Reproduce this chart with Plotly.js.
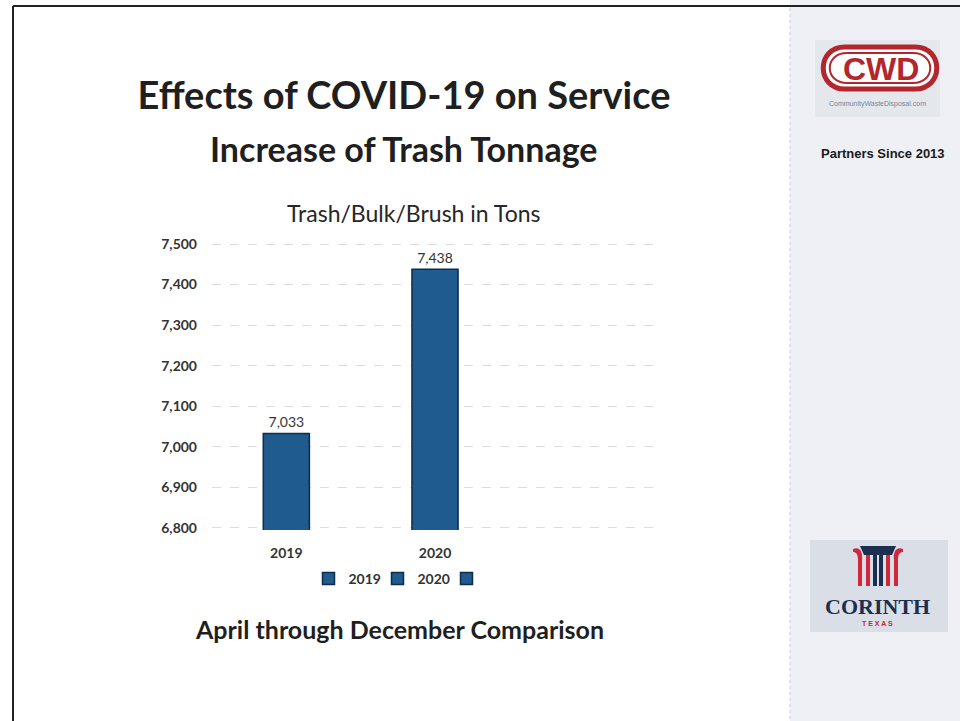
<!DOCTYPE html>
<html><head><meta charset="utf-8">
<script src="https://cdn.plot.ly/plotly-3.0.1.min.js"></script>
<style>html,body{margin:0;padding:0;background:#fff;}#chart{width:960px;height:721px;}</style>
</head><body><div id="chart"></div>
<script>
const categories = ["2019", "2020", " "];
const legendNames = ["2019", "2020", ""];
const tons = [7033, 7438, null];
const yTicks = [6800, 6900, 7000, 7100, 7200, 7300, 7400, 7500];
const yTickLabels = ["6,800", "6,900", "7,000", "7,100", "7,200", "7,300", "7,400", "7,500"];

const barColor = "#1f5b8f";
const barLine = "#0f2c48";
const F = "Lato, 'Open Sans', sans-serif";

const traces = categories.map((c, i) => ({
  type: "bar",
  x: [c],
  y: [tons[i]],
  name: legendNames[i],
  width: 0.31,
  marker: {color: barColor, line: {color: barLine, width: 1.5}},
  text: tons[i] == null ? [""] : [tons[i].toLocaleString("en-US")],
  textposition: "outside",
  cliponaxis: false,
  textfont: {family: F, size: 14, color: "#333"},
  hoverinfo: "skip"
}));

const shapes = [
  // sidebar
  {type: "rect", xref: "x2", yref: "y2", x0: 790, x1: 960, y0: 0, y1: 721, fillcolor: "#eef0f5", line: {width: 0}, layer: "below"},
  {type: "line", xref: "x2", yref: "y2", x0: 790, x1: 790, y0: 8, y1: 721, line: {color: "#c9ccd3", width: 1, dash: "dot"}},
  // slide border
  {type: "line", xref: "x2", yref: "y2", x0: 13, x1: 960, y0: 6, y1: 6, line: {color: "#222", width: 2}},
  {type: "line", xref: "x2", yref: "y2", x0: 13, x1: 13, y0: 6, y1: 721, line: {color: "#222", width: 2}},
  // CWD logo
  {type: "rect", xref: "x2", yref: "y2", x0: 815, x1: 940, y0: 40, y1: 117, fillcolor: "#e4e7ec", line: {width: 0}},
  {type: "path", xref: "x2", yref: "y2", path: "M 845,47 L 915,47 C 944,47 944,89 915,89 L 845,89 C 816,89 816,47 845,47 Z", fillcolor: "#ffffff", line: {color: "#b3262d", width: 5}},
  {type: "path", xref: "x2", yref: "y2", path: "M 847,53 L 913,53 C 936,53 936,83 913,83 L 847,83 C 824,83 824,53 847,53 Z", fillcolor: "#ffffff", line: {color: "#b3262d", width: 2}},
  // Corinth logo
  {type: "rect", xref: "x2", yref: "y2", x0: 810, x1: 948, y0: 540, y1: 632, fillcolor: "#d9dee7", line: {width: 0}},
  {type: "path", xref: "x2", yref: "y2", path: "M 860,546 L 896,546 L 892,555 L 864,555 Z", fillcolor: "#1c2f4f", line: {width: 0}},
  {type: "path", xref: "x2", yref: "y2", path: "M 853,549 C 860,546 863,552 862,560 L 862,586 L 858,586 L 858,560 C 858,554 856,552 853,552 Z", fillcolor: "#d0283a", line: {width: 0}},
  {type: "path", xref: "x2", yref: "y2", path: "M 903,549 C 896,546 893,552 894,560 L 894,586 L 898,586 L 898,560 C 898,554 900,552 903,552 Z", fillcolor: "#d0283a", line: {width: 0}},
  {type: "rect", xref: "x2", yref: "y2", x0: 866, x1: 870, y0: 555, y1: 586, fillcolor: "#d0283a", line: {width: 0}},
  {type: "rect", xref: "x2", yref: "y2", x0: 873, x1: 877, y0: 555, y1: 586, fillcolor: "#1c2f4f", line: {width: 0}},
  {type: "rect", xref: "x2", yref: "y2", x0: 879, x1: 883, y0: 555, y1: 586, fillcolor: "#1c2f4f", line: {width: 0}},
  {type: "rect", xref: "x2", yref: "y2", x0: 886, x1: 890, y0: 555, y1: 586, fillcolor: "#d0283a", line: {width: 0}}
];

const annotations = [
  {text: "<b>Increase of Trash Tonnage</b>", x: 404, y: 148, font: {family: F, size: 34, color: "#1f1f1f"}},
  {text: "Trash/Bulk/Brush in Tons", x: 414, y: 213, font: {family: F, size: 23, color: "#262626"}},
  {text: "<b>April through December Comparison</b>", x: 399, y: 629, font: {family: F, size: 25, color: "#1f1f1f"}},
  {text: "<b>CWD</b>", x: 881, y: 69, font: {family: "'Liberation Sans', Arial, sans-serif", size: 32, color: "#b3262d"}},
  {text: "CommunityWasteDisposal.com", x: 877, y: 104, font: {family: "'Liberation Sans Narrow', 'Liberation Sans', sans-serif", size: 7, color: "#7c8597"}},
  {text: "<b>Partners Since 2013</b>", x: 883, y: 153, font: {family: "'Liberation Sans Narrow', 'Liberation Sans', sans-serif", size: 13, color: "#1a1a1a"}},
  {text: "<b>CORINTH</b>", x: 877, y: 606, font: {family: "'Liberation Serif', 'DejaVu Serif', serif", size: 22, color: "#1c2f4f"}},
  {text: "<b>T E X A S</b>", x: 877, y: 623, font: {family: "'Liberation Sans', sans-serif", size: 7, color: "#c0283a"}}
].map(a => Object.assign({xref: "x2", yref: "y2", showarrow: false, xanchor: "center", yanchor: "middle"}, a));

const layout = {
  width: 960, height: 721,
  margin: {l: 0, r: 0, t: 0, b: 0},
  paper_bgcolor: "#ffffff", plot_bgcolor: "rgba(0,0,0,0)",
  title: {text: "<b>Effects of COVID-19 on Service</b>", x: 404 / 960, xanchor: "center", xref: "paper",
          y: 1 - 96 / 721, yanchor: "middle", yref: "paper",
          font: {family: F, size: 38, color: "#1f1f1f"}},
  barmode: "overlay",
  showlegend: true,
  legend: {orientation: "h", x: 412 / 960, xanchor: "center", y: 1 - 579 / 721, yanchor: "middle",
           font: {family: F, size: 14, color: "#333", weight: "bold"}, itemwidth: 30, bgcolor: "rgba(0,0,0,0)",
           entrywidth: 24, entrywidthmode: "pixels",
           traceorder: "normal", itemclick: false},
  xaxis: {domain: [212 / 960, 658 / 960], type: "category", categoryorder: "array", categoryarray: categories,
          range: [-0.5, 2.5], showgrid: false, zeroline: false, showline: false, ticks: "", ticklabelstandoff: 13,
          tickfont: {family: F, size: 14, color: "#333", weight: "bold"}, fixedrange: true},
  yaxis: {domain: [1 - 530 / 721, 1 - 242 / 721], range: [6795, 7505], tickvals: yTicks, ticktext: yTickLabels,
          showgrid: true, gridcolor: "#dcdcdc", griddash: "dash", gridwidth: 1, zeroline: false, showline: false,
          ticks: "", ticklabelstandoff: 14,
          tickfont: {family: F, size: 14, color: "#333", weight: "bold"}, fixedrange: true},
  xaxis2: {domain: [0, 1], range: [0, 960], visible: false, anchor: "y2", fixedrange: true},
  yaxis2: {domain: [0, 1], range: [721, 0], visible: false, anchor: "x2", fixedrange: true},
  shapes: shapes,
  annotations: annotations
};

Plotly.newPlot("chart", traces, layout, {displayModeBar: false, staticPlot: true});
</script>
</body></html>
